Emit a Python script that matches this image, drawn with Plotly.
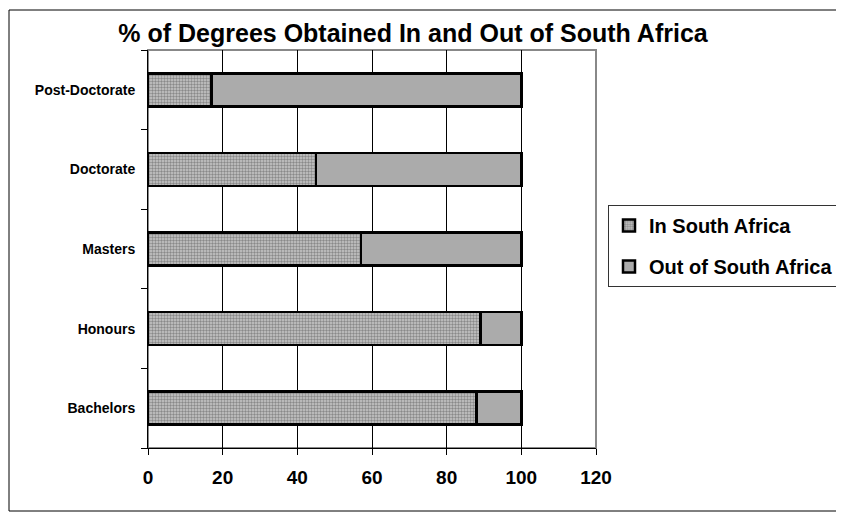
import plotly.graph_objects as go

categories = ["Bachelors", "Honours", "Masters", "Doctorate", "Post-Doctorate"]
in_sa = [88, 89, 57, 45, 17]
out_sa = [12, 11, 43, 55, 83]
x_ticks = [0, 20, 40, 60, 80, 100, 120]

FONT = "Liberation Sans, Arial, sans-serif"

# plot area in figure pixels (page is offset by 8px body margin)
L, R, T, B = 140, 588, 42, 440
W = R - L
H = B - T

fig = go.Figure()
fig.add_trace(go.Bar(
    y=categories, x=in_sa, orientation="h", name="In South Africa",
    legendgroup="a",
    marker=dict(color="#b8b8b8", line=dict(color="black", width=2.5),
                pattern=dict(shape=".", fgcolor="#4a4a4a", bgcolor="#c8c8c8", size=3, solidity=0.5)),
    width=0.415,
))
fig.add_trace(go.Bar(
    y=categories, x=out_sa, orientation="h", name="Out of South Africa",
    legendgroup="b",
    marker=dict(color="#ababab", line=dict(color="black", width=2.5)),
    width=0.415,
))

fig.update_layout(
    barmode="stack",
    width=844, height=512,
    margin=dict(l=L, r=844 - R, t=T, b=512 - B, autoexpand=False),
    paper_bgcolor="white", plot_bgcolor="white",
    font=dict(family=FONT, color="black"),
    title=dict(text="<b>% of Degrees Obtained In and Out of South Africa</b>",
               x=405 / 844, xref="container", y=1 - 25 / 512, yref="container",
               xanchor="center", yanchor="middle",
               font=dict(size=25, family=FONT, color="black")),
    legend=dict(x=(600 - L) / W, y=(B - 197) / H, xanchor="left", yanchor="top",
                bordercolor="#333", borderwidth=1, bgcolor="white",
                traceorder="grouped", tracegroupgap=12,
                font=dict(size=20, family=FONT, color="black", weight="bold"),
                itemwidth=30),
    showlegend=True,
    xaxis=dict(range=[0, 120], tickvals=x_ticks, ticktext=[str(v) for v in x_ticks],
               showgrid=True, gridcolor="black", gridwidth=1,
               showline=True, linecolor="black", linewidth=1,
               ticks="outside", ticklen=6, tickcolor="black",
               tickfont=dict(size=19, family=FONT, weight="bold"),
               ticklabelstandoff=6,
               zeroline=False, fixedrange=True, automargin=False),
    yaxis=dict(categoryorder="array", categoryarray=categories,
               showline=True, linecolor="black", linewidth=1,
               ticks="outside", ticklen=6, tickcolor="black", tickson="boundaries",
               tickfont=dict(size=14, family=FONT, weight="bold"),
               ticklabelstandoff=9, showgrid=False, fixedrange=True, automargin=False),
    shapes=[
        dict(type="rect", xref="paper", yref="paper", x0=0, x1=1, y0=0, y1=1,
             line=dict(color="#888888", width=2), layer="below"),
        dict(type="rect", xref="paper", yref="paper",
             x0=(1 - L) / W, x1=(835 - L) / W,
             y0=(B - 503) / H, y1=(B - 2) / H,
             line=dict(color="black", width=1), layer="below"),
    ],
)

fig.write_html("out.html")
